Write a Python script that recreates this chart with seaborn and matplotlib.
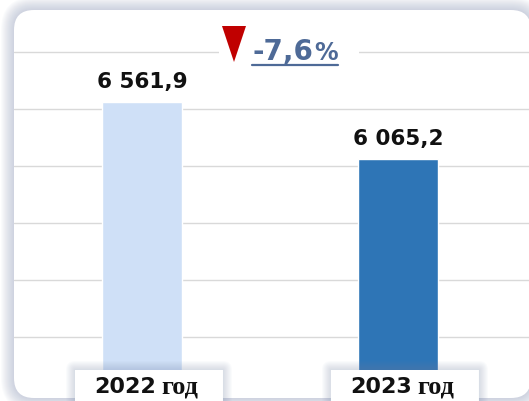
import matplotlib
matplotlib.use("Agg")
import numpy as np
import pandas as pd
import seaborn as sns
import matplotlib.pyplot as plt
from matplotlib.patches import FancyBboxPatch, Polygon, Rectangle
from matplotlib.lines import Line2D
from matplotlib.transforms import blended_transform_factory, offset_copy

# data
years = ["2022", "2023"]
values = [6561.9, 6065.2]
suffix = "год"
bar_colors = ["#CFE0F7", "#2E75B6"]

W, H = 529, 401

sns.set_theme(style="white")
plt.rcParams['font.family'] = ['DejaVu Sans']

fig = plt.figure(figsize=(W / 100, H / 100), dpi=100)
fig.patch.set_facecolor("white")
px = fig.dpi_scale_trans  # 1 unit == 100 px


def box(x0, y0, x1, y1, r, **kw):
    # pixel coords measured from the top-left corner
    return FancyBboxPatch((x0 / 100, (H - y1) / 100), (x1 - x0) / 100, (y1 - y0) / 100,
                          boxstyle=f"round,pad=0,rounding_size={r / 100}",
                          transform=px, **kw)


def soft_shadow(x0, y0, x1, y1, r, spread, color, zorder, alpha=0.08):
    for i in range(spread, 0, -1):
        fig.patches.append(box(x0 - i, y0 - i, x1 + i, y1 + i, r + i,
                               facecolor=color, edgecolor="none",
                               alpha=alpha, zorder=zorder))


# rounded card with a blue-grey glow
soft_shadow(14, 10, 531, 398, 20, 13, "#8C99B8", -3, alpha=0.035)
fig.patches.append(box(14, 10, 531, 398, 20, facecolor="white",
                       edgecolor="none", zorder=-2))

ax = fig.add_axes([14 / W, 7 / H, 515 / W, 384 / H])
ax.set_facecolor("none")

df = pd.DataFrame({"year": years, "value": values})
sns.barplot(data=df, x="year", y="value", hue="year", palette=bar_colors,
            width=0.3125, legend=False, ax=ax, saturation=1)

ax.set_xlim(-0.5, 1.512)
ax.set_ylim(4000, 7368)
ax.set_yticks(np.arange(4500, 7001, 500))
ax.yaxis.grid(True, color="#D9D9D9", lw=1)
ax.set_axisbelow(True)
ax.tick_params(left=False, bottom=False, labelleft=False, labelbottom=False)
ax.set_xlabel("")
ax.set_ylabel("")
for s in ax.spines.values():
    s.set_visible(False)

for cont, v in zip(ax.containers, values):
    lab = f"{v:,.1f}".replace(",", " ").replace(".", ",")
    ax.bar_label(cont, labels=[lab], padding=7, fontsize=15.5,
                 fontweight="bold", color="#111111")

# category captions in white boxes
for i, yr in enumerate(years):
    cx = ax.transData.transform((i, 0))[0]
    x0, x1 = cx - 67, cx + 81
    soft_shadow(x0, 370, x1, 410, 0, 9, "#7A8AAD", 2, alpha=0.03)
    fig.patches.append(box(x0, 370, x1, 410, 0, facecolor="white",
                           edgecolor="none", zorder=3))
    tr = blended_transform_factory(ax.transData, px)
    fig.text(i, (H - 393) / 100, yr, ha="right", va="baseline",
             fontsize=16, fontweight="bold", color="#111111", zorder=4,
             transform=offset_copy(tr, fig=fig, x=14, units="dots"))
    fig.text(i, (H - 393) / 100, suffix, ha="left", va="baseline",
             fontsize=19, fontweight="bold", color="#111111", zorder=4,
             family="Liberation Serif",
             transform=offset_copy(tr, fig=fig, x=19, units="dots"))

# change annotation
change = (values[1] / values[0] - 1) * 100
fig.patches.append(Rectangle((219 / 100, (H - 56) / 100), 140 / 100, 8 / 100,
                             transform=px, facecolor="white", edgecolor="none",
                             zorder=3))
fig.patches.append(Polygon([(222 / 100, (H - 26) / 100), (246 / 100, (H - 26) / 100),
                            (234 / 100, (H - 62) / 100)], closed=True,
                           transform=px, facecolor="#C00000", edgecolor="none",
                           zorder=4))
num = f"{change:.1f}".replace(".", ",")
blue = "#4E6A97"
t1 = fig.text(252 / 100, (H - 60) / 100, num, ha="left", va="baseline",
              fontsize=20, fontweight="bold", color=blue, transform=px, zorder=4)
fig.canvas.draw()
bb = t1.get_window_extent()
t2 = fig.text(bb.x1 / 100 + 0.01, (H - 60) / 100, "%", ha="left", va="baseline",
              fontsize=17, fontweight="bold", color=blue, transform=px, zorder=4)
fig.canvas.draw()
bb2 = t2.get_window_extent()
fig.lines.append(Line2D([bb.x0 / 100, bb2.x1 / 100], [(H - 65) / 100] * 2,
                        transform=px, color=blue, lw=1.6, zorder=4))

fig.savefig("out.png", dpi=100)
